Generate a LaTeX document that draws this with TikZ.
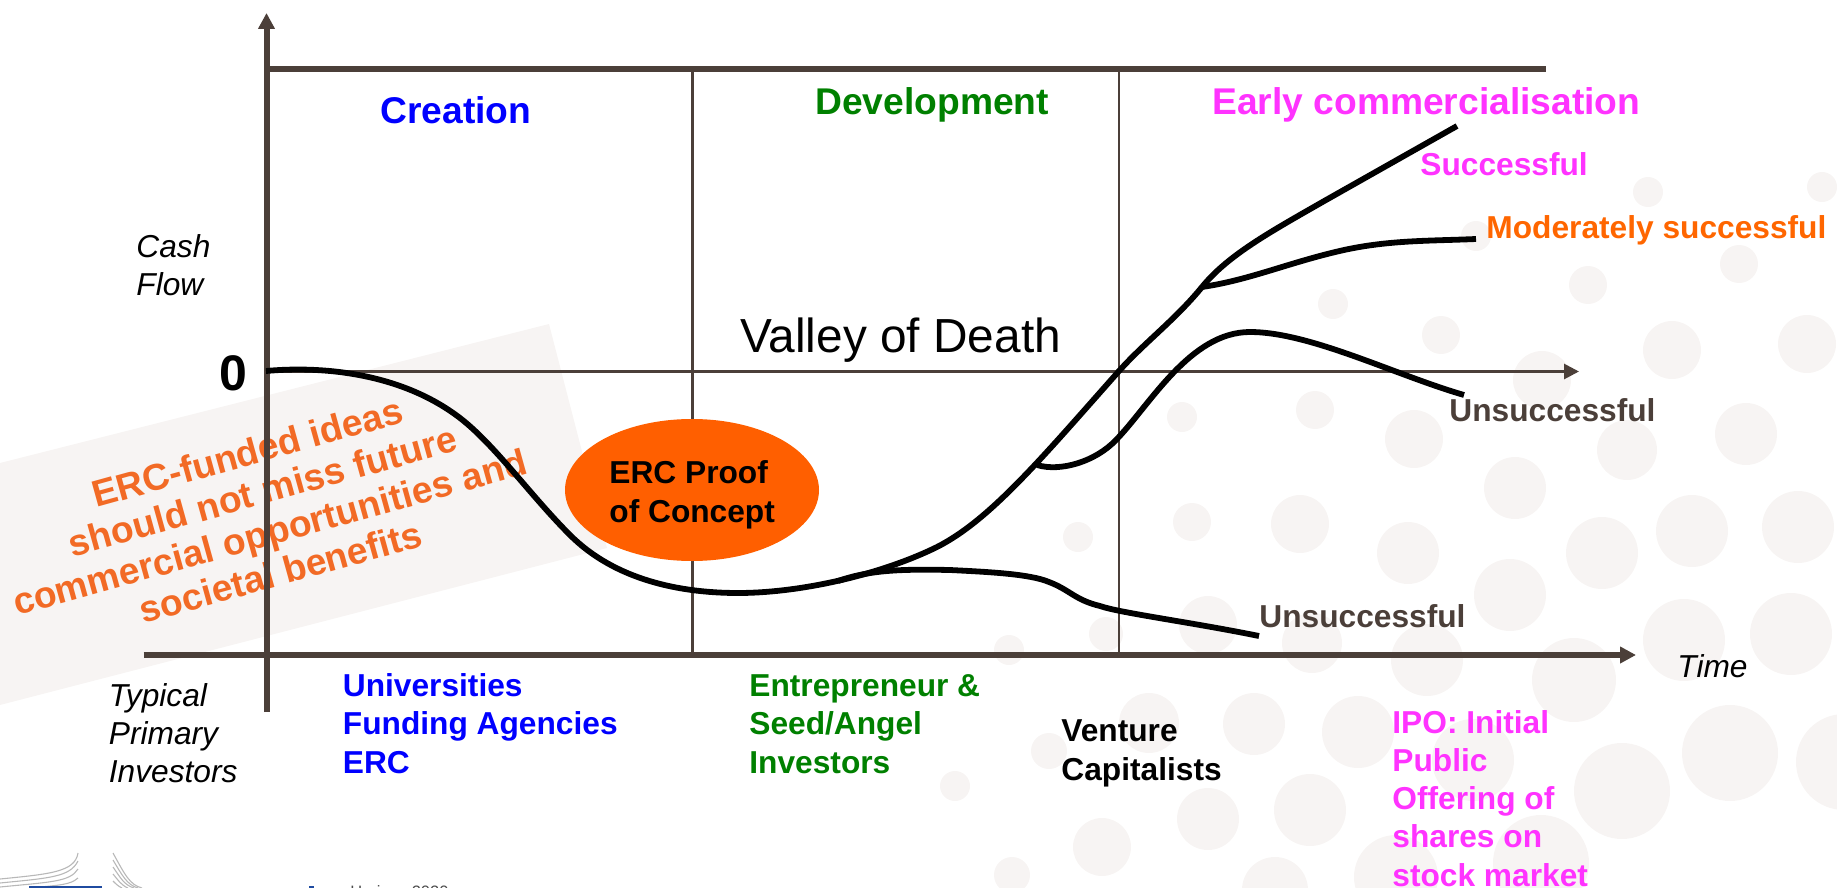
\documentclass[tikz,border=0pt]{standalone}
\usepackage{fontspec}
\setmainfont{Liberation Sans}
\usetikzlibrary{arrows.meta,shapes.geometric}
\definecolor{axisc}{HTML}{4B3F39}
\definecolor{dotc}{HTML}{F7F4F3}
\definecolor{blueT}{HTML}{0000FF}
\definecolor{greenT}{HTML}{008000}
\definecolor{pinkT}{HTML}{FF33FF}
\definecolor{orangeT}{HTML}{FF6600}
\definecolor{bannerT}{HTML}{F26A25}
\definecolor{pocc}{HTML}{FF5F00}
\definecolor{euB}{HTML}{1F4BA0}
\definecolor{logoG}{HTML}{B8B8B8}
\tikzset{
  dot/.style={fill=dotc,draw=none},
  lbl/.style={inner sep=0pt,anchor=base west,align=left,font=\fontsize{15.85}{19.1}\selectfont\bfseries},
  phase/.style={inner sep=0pt,anchor=base west,font=\fontsize{18.6}{22}\selectfont\bfseries},
  ital/.style={inner sep=0pt,anchor=base west,align=left,font=\fontsize{15.85}{19}\selectfont\itshape},
  heavyaxis/.style={draw=axisc,line width=3pt},
  thinaxis/.style={draw=axisc,line width=1.4pt},
  curve/.style={draw=black,line width=2.9pt,line cap=butt,line join=round},
  logoline/.style={draw=logoG,line width=0.55pt},
}
\begin{document}
\begin{tikzpicture}[x=0.5pt,y=-0.5pt]
\useasboundingbox (0,0) rectangle (1837,888);
\clip (0,0) rectangle (1837,888);
% background dots
\foreach \x/\y/\r in {1648/192/15,1822/187/15,1476/236/15,1588/285/19,1739/264/19,1333/304/15,1441/335/19,1672/350/29,1807/344/29,1542/380/29,1315/410/19,1182/417/15,1414/439/29,1627/450/30,1746/434/31,1515/488/31,1300/524/29,1192/522/19,1078/537/15,1408/553/31,1602/553/36,1692/531/36,1798/527/36,1510/595/36,1684/640/41,1791/634/41,1208/625/29,1106/634/17,1009/650/15,1312/643/30,1427/660/36,1574/680/42,1149/723/30,1254/724/31,1358/732/36,1049/751/18,1473/760/41,1730/753/48,1844/762/48,1622/791/48,955/786/15,1208/819/31,1310/810/36,1102/847/29,1012/875/18,1396/877/42,1541/863/48,1275/890/33}
  \fill[dotc] (\x,\y) circle[radius=\r];
% banner
\fill[dotc] (549,324) -- (607,548) -- (0,705) -- (0,463) -- cycle;
\node[rotate=15.5,inner sep=0pt,align=center,text=bannerT,font=\fontsize{18.6}{20.7}\selectfont\bfseries] (banner) at (264,512)
  {ERC-funded ideas\\\hspace*{4pt}should not miss future\\commercial opportunities and\\societal benefits};
% logo fragments
\draw[logoline] (0,879) .. controls (50,874) and (75,872) .. (78,853);
\draw[logoline] (0,883) .. controls (50,878) and (70,877) .. (78,861);
\draw[logoline] (0,887) .. controls (50,882) and (70,882) .. (78,869);
\draw[logoline] (30,888) .. controls (60,885) and (70,885) .. (78,878);
\draw[logoline] (113,853) .. controls (125,875) and (130,885) .. (142,888);
\draw[logoline] (113,860) .. controls (122,875) and (127,885) .. (138,888);
\draw[logoline] (113,867) .. controls (120,877) and (124,885) .. (134,888);
\draw[logoline] (113,874) .. controls (118,880) and (121,885) .. (128,888);
\draw[logoline] (113,881) .. controls (116,884) and (118,886) .. (122,888);
\fill[euB] (29,886) rectangle (102,888);
\fill[euB] (309,886) rectangle (314,888);
\node[inner sep=0pt,anchor=base west,text=black!70,font=\fontsize{8.25}{10}\selectfont] (hz) at (350,897) {Horizon 2020};
% named points
\coordinate (yb) at (266.5,712);
\coordinate (yt) at (266.5,13);
\coordinate (xl) at (143.5,655);
\coordinate (xr) at (1636,655);
\coordinate (zl) at (266.5,371.5);
\coordinate (zr) at (1579,371.5);
\coordinate (tl) at (264,69);
\coordinate (tr) at (1546,69);
\coordinate (v1t) at (692.5,69);
\coordinate (v1b) at (692.5,655);
\coordinate (v2t) at (1119,69);
\coordinate (v2b) at (1119,655);
% frame
\draw[thinaxis] (v1t) -- (v1b);
\draw[thinaxis] (v2t) -- (v2b);
\draw[thinaxis,-{Triangle[length=7.5pt,width=7.5pt]}] (zl) -- (zr);
\draw[heavyaxis] (tl) -- (tr);
\draw[heavyaxis,-{Triangle[length=8pt,width=8pt]}] (yb) -- (yt);
\draw[heavyaxis,-{Triangle[length=8pt,width=8pt]}] (xl) -- (xr);
% curves
\coordinate (c0) at (266,371);
\coordinate (bmid) at (1037,465);
\coordinate (bmod) at (1202,287);
\coordinate (blow) at (838,581);
\coordinate (e1) at (1457,126);
\coordinate (e2) at (1476,239);
\coordinate (e3) at (1464,395);
\coordinate (e4) at (1259,636);
\draw[curve] (c0) .. controls (320,366) and (400,372) .. (460,418)
  .. controls (495,445) and (530,495) .. (570,535)
  .. controls (615,580) and (680,593) .. (738,593)
  .. controls (800,593) and (880,575) .. (937,547)
  .. controls (990,520) and (1040,460) .. (1119,371)
  .. controls (1145,342) and (1175,320) .. (bmod)
  .. controls (1228,255) and (1270,232) .. (1326,200)
  -- (e1);
\draw[curve] (bmod) .. controls (1250,280) and (1290,262) .. (1344,250)
  .. controls (1390,240) and (1430,241) .. (e2);
\draw[curve] (bmid) .. controls (1060,472) and (1095,462) .. (1116,440)
  .. controls (1150,405) and (1190,332) .. (1250,332)
  .. controls (1310,332) and (1395,375) .. (e3);
\draw[curve] (blow) .. controls (870,570) and (900,569) .. (950,570)
  .. controls (990,572) and (1030,574) .. (1049,582)
  .. controls (1070,590) and (1075,600) .. (1100,606)
  .. controls (1120,613) and (1190,622) .. (e4);
% ellipse
\node[ellipse,fill=pocc,draw=none,minimum width=127pt,minimum height=71pt,inner sep=0pt] (poc) at (692,490) {};
\node[lbl,text=black] (poct) at (609,522) {ERC Proof\\of Concept};
% headings
\node[phase,text=blueT] (creation) at (380,124) {Creation};
\node[phase,text=greenT] (dev) at (815,115) {Development};
\node[phase,text=pinkT] (early) at (1212,115) {Early commercialisation};
\node[inner sep=0pt,anchor=base west,font=\fontsize{23.9}{28}\selectfont] (valley) at (740,352) {Valley of Death};
\node[inner sep=0pt,anchor=base west,font=\fontsize{25}{30}\selectfont\bfseries] (zero) at (219,390) {0};
\node[ital] (cash) at (136,295) {Cash\\Flow};
\node[ital] (tpi) at (108.5,782) {Typical\\Primary\\Investors};
\node[ital] (time) at (1677,677) {Time};
\node[lbl,text=pinkT] (succ) at (1420,176) {Successful};
\node[lbl,text=orangeT] (mod) at (1486,238) {Moderately successful};
\node[lbl,text=axisc] (un1) at (1449,421) {Unsuccessful};
\node[lbl,text=axisc] (un2) at (1259,627) {Unsuccessful};
\node[lbl,text=blueT] (inv1) at (342.5,773) {Universities\\Funding Agencies\\ERC};
\node[lbl,text=greenT] (inv2) at (749,773) {Entrepreneur \&\\Seed/Angel\\Investors};
\node[lbl,text=black] (inv3) at (1061,780) {Venture\\Capitalists};
\node[lbl,text=pinkT] (inv4) at (1392,886) {IPO: Initial\\Public\\Offering of\\shares on\\stock market};
\end{tikzpicture}
\end{document}
